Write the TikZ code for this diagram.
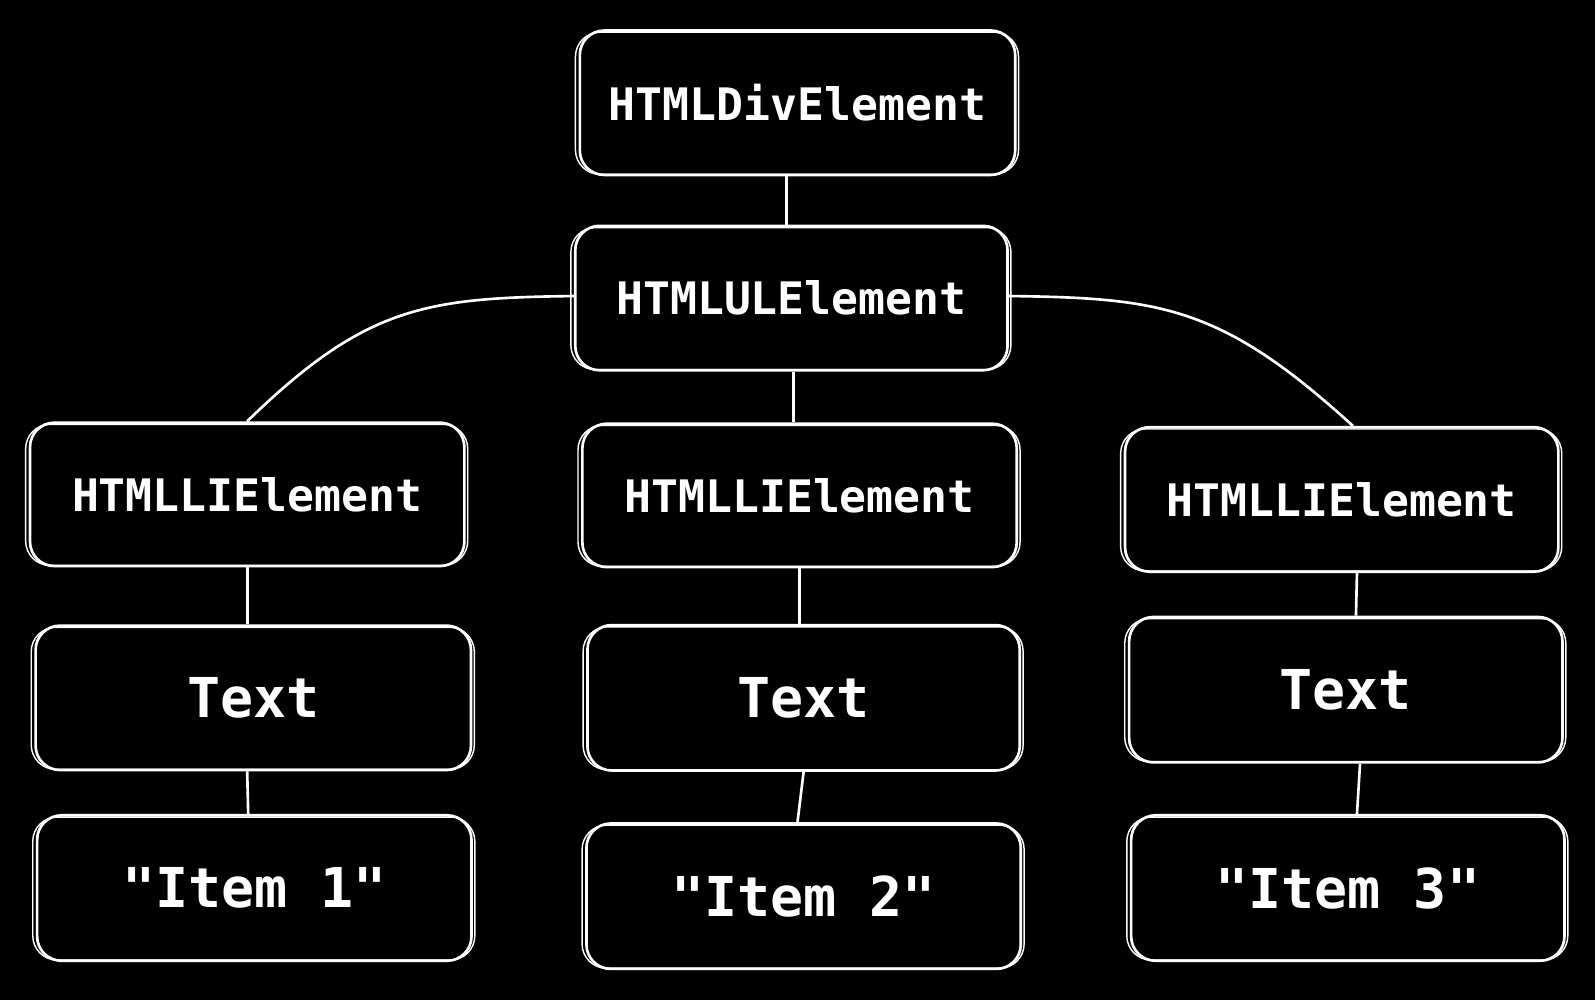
\documentclass[tikz,border=0pt]{standalone}
\usepackage{fontspec}
\setmonofont{DejaVu Sans Mono}
\begin{document}
\begin{tikzpicture}[x=1pt,y=-1pt,
  bx/.style={draw=white,line width=2.6pt,rounded corners=24pt,text=white,font=\ttfamily\bfseries\fontsize{44}{50}\selectfont,inner sep=0pt},
  big/.style={font=\ttfamily\bfseries\fontsize{54}{60}\selectfont},
  ln/.style={draw=white,line width=2.6pt}]
\fill[black] (0,0) rectangle (1568,983);
\useasboundingbox (0,0) rectangle (1568,983);
\def\B#1#2#3#4#5#6{\node[bx,#6,minimum width=#4pt,minimum height=#5pt] (#1) at #2 {#3};
  \draw[white,line width=1.4pt,rounded corners=24pt] ([xshift=-3pt,yshift=2pt]#1.south west) rectangle ([xshift=2pt,yshift=-3pt]#1.north east);}
\B{div}{(784,101)}{HTMLDivElement}{428}{142}{}
\B{ul}{(778,293)}{HTMLULElement}{425}{142}{}
\B{li1}{(243,486)}{HTMLLIElement}{427}{141}{}
\B{li2}{(786,487)}{HTMLLIElement}{427}{141}{}
\B{li3}{(1319,491)}{HTMLLIElement}{426}{142}{}
\B{t1}{(249,686)}{Text}{428}{142}{big}
\B{t2}{(790,686)}{Text}{425}{143}{big}
\B{t3}{(1323,678)}{Text}{426}{143}{big}
\B{i1}{(250,873)}{"Item 1"}{427}{143}{big}
\B{i2}{(790,881)}{"Item 2"}{427}{143}{big}
\B{i3}{(1325,873)}{"Item 3"}{426}{143}{big}
\draw[ln] (div.south -| 773,0) -- (ul.north -| 773,0);
\draw[ln] (ul.south -| 780,0) -- (li2.north -| 780,0);
\draw[ln] (ul.west |- 0,291) .. controls (420,293) and (360,300) .. (li1.north);
\draw[ln] (ul.east |- 0,291) .. controls (1140,293) and (1200,300) .. ([xshift=11pt]li3.north);
\draw[ln] (li1.south) -- (t1.north -| li1.south);
\draw[ln] (li2.south) -- (t2.north -| li2.south);
\draw[ln] ([xshift=15pt]li3.south) -- ([xshift=10pt]t3.north);
\draw[ln] ([xshift=-6pt]t1.south) -- ([xshift=-6pt]i1.north);
\draw[ln] ([xshift=0pt]t2.south) -- ([xshift=-6pt]i2.north);
\draw[ln] ([xshift=14pt]t3.south) -- ([xshift=9pt]i3.north);
\end{tikzpicture}
\end{document}
